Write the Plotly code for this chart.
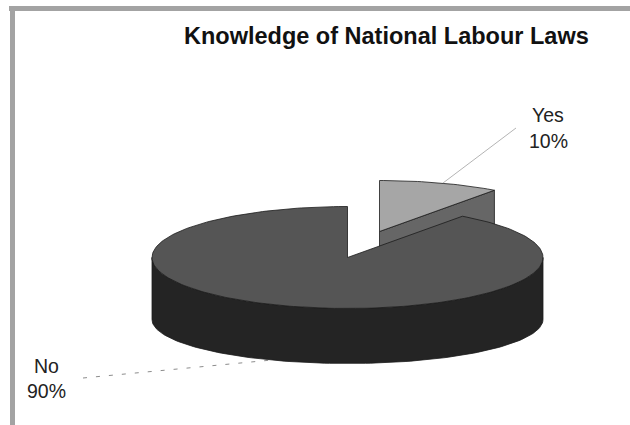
import numpy as np
import plotly.graph_objects as go

title = "Knowledge of National Labour Laws"
categories = ["Yes", "No"]
shares = [10, 90]

W, H = 630, 425
FRAME = "#a3a3a3"
TOP_COLORS = {"Yes": "#a6a6a6", "No": "#555555"}
SIDE_COLORS = {"Yes": "#666666", "No": "#242424"}
EDGE = "#1c1c1c"

CX, CY = 347.5, 257.5      # centre of the pie top
RX, RY = 195.5, 51         # radii of the tilted top
BASE_CY, BASE_RY = 319.5, 44
EXPLODE = (32, -26)        # offset of the pulled-out Yes slice


def ellipse(t, cx=CX, cy=CY, rx=RX, ry=RY):
    r = np.radians(t)
    return cx + rx * np.sin(r), cy - ry * np.cos(r)


total = sum(shares)
sweep = [360 * s / total for s in shares]
yes_end = sweep[0]
no_end = sweep[0] + sweep[1]

fig = go.Figure()


def poly(x, y, fill, edge=EDGE, w=0.8):
    fig.add_trace(go.Scatter(
        x=list(x), y=list(y), mode="lines", fill="toself", fillcolor=fill,
        line=dict(color=edge, width=w), hoverinfo="skip", showlegend=False))


# Yes slice: inner cut face, then top
ox, oy = EXPLODE
apex = (CX + ox, CY + oy)
ex, ey = ellipse(yes_end, CX + ox, CY + oy)
poly([apex[0], ex, ex, apex[0], apex[0]],
     [apex[1], ey, ey + 60, apex[1] + 60, apex[1]], SIDE_COLORS["Yes"])
t = np.linspace(0, yes_end, 30)
sx, sy = ellipse(t, CX + ox, CY + oy)
poly(np.r_[apex[0], sx, apex[0]], np.r_[apex[1], sy, apex[1]], TOP_COLORS["Yes"])

# No slice: outer wall, then top
t = np.linspace(90, 270, 120)
ux, uy = ellipse(t)
lx, ly = ellipse(t[::-1], cy=BASE_CY, ry=BASE_RY)
poly(np.r_[ux, lx, ux[0]], np.r_[uy, ly, uy[0]], SIDE_COLORS["No"])
t = np.linspace(yes_end, no_end, 240)
sx, sy = ellipse(t)
poly(np.r_[CX, sx, CX], np.r_[CY, sy, CY], TOP_COLORS["No"])

# Leader lines
fig.add_trace(go.Scatter(x=[443, 516], y=[183, 128], mode="lines",
                         line=dict(color="#b4b4b4", width=1),
                         hoverinfo="skip", showlegend=False))
fig.add_trace(go.Scatter(x=[83, 272], y=[378, 360], mode="lines",
                         line=dict(color="#8c8c8c", width=1, dash="4px,9px"),
                         hoverinfo="skip", showlegend=False))

FONT = "Liberation Sans, Arial, sans-serif"
annotations = [dict(x=386, y=36, text=f"<b>{title}</b>",
                    font=dict(size=23.5, color="#111111", family=FONT))]
label_pos = {"Yes": (548, 115, 141), "No": (46, 366, 391)}
for name, share in zip(categories, shares):
    lx_, y1, y2 = label_pos[name]
    annotations.append(dict(x=lx_, y=y1, text=name,
                            font=dict(size=19.5, color="#222222", family=FONT)))
    annotations.append(dict(x=lx_, y=y2, text=f"{share}%",
                            font=dict(size=19.5, color="#222222", family=FONT)))
for a in annotations:
    a.update(xref="x", yref="y", showarrow=False, xanchor="center", yanchor="middle")

fig.update_layout(
    width=W, height=H, autosize=False,
    margin=dict(l=0, r=0, t=0, b=0),
    paper_bgcolor="white", plot_bgcolor="white",
    xaxis=dict(range=[0, W], visible=False, fixedrange=True),
    yaxis=dict(range=[H, 0], visible=False, fixedrange=True),
    annotations=annotations,
    shapes=[
        dict(type="rect", xref="x", yref="y", x0=9, x1=W, y0=6, y1=11,
             fillcolor=FRAME, line_width=0, layer="below"),
        dict(type="rect", xref="x", yref="y", x0=10, x1=15, y0=6, y1=H,
             fillcolor=FRAME, line_width=0, layer="below"),
    ],
)
fig.write_html("out.html", config=dict(displayModeBar=False),
               post_script="document.body.style.margin='0';document.body.style.overflow='hidden';")
